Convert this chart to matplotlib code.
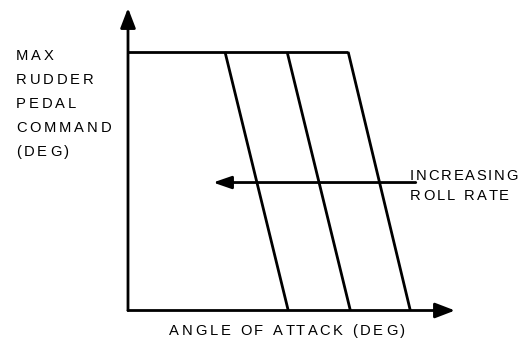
import matplotlib
matplotlib.use("Agg")
import matplotlib.pyplot as plt
from matplotlib.font_manager import FontProperties

# schematic: max rudder pedal command vs angle of attack, one line per roll rate
alpha_top = [8.9, 14.6, 20.2]       # angle where the limit starts to drop
alpha_bottom = [14.7, 20.4, 25.9]   # angle where the limit reaches zero
max_cmd = 1.0
roll_arrow_y = 0.495
roll_arrow_x = [26.4, 7.8]          # from, to (increasing roll rate -> lower alpha)

ylabel_lines = ["MAX", "RUDDER", "PEDAL", "COMMAND", "(DEG)"]
xlabel = "ANGLE OF ATTACK (DEG)"
roll_label = ["INCREASING", "ROLL RATE"]

W, H = 523, 339
FONT = "Liberation Sans"
SIZE = 10.6

fig = plt.figure(figsize=(W / 100, H / 100), dpi=100)
ax = fig.add_axes([128 / W, (H - 310.5) / H, (455 - 128) / W, (310.5 - 8) / H])
ax.set_xlim(0, 30)
ax.set_ylim(0, 1.17)
ax.axis("off")

lw = 2.0
arrow = dict(arrowstyle="-|>,head_length=12,head_width=4.6", mutation_scale=1,
             lw=lw, color="black", shrinkA=0, shrinkB=0)
ax.annotate("", xy=(0, 1.17), xytext=(0, 0), arrowprops=arrow, annotation_clip=False)
ax.annotate("", xy=(30, 0), xytext=(0, 0), arrowprops=arrow, annotation_clip=False)

ax.plot([0, alpha_top[-1]], [max_cmd, max_cmd], color="black", lw=lw, solid_capstyle="butt")
for a0, a1 in zip(alpha_top, alpha_bottom):
    ax.plot([a0, a1], [max_cmd, 0], color="black", lw=lw, solid_capstyle="butt")

ax.annotate("", xy=(roll_arrow_x[1], roll_arrow_y), xytext=(roll_arrow_x[0], roll_arrow_y),
            arrowprops=dict(arrowstyle="-|>,head_length=11,head_width=3.8", mutation_scale=1,
                            lw=lw, color="black", shrinkA=0, shrinkB=0),
            annotation_clip=False)

renderer = fig.canvas.get_renderer()
prop = FontProperties(family=FONT, size=SIZE)


def text_w(s):
    if not s:
        return 0.0
    w, _, _ = renderer.get_text_width_height_descent(s, prop, ismath=False)
    return w


SPACE = text_w("n") * 0.5


def natural_w(s):
    words = s.split(" ")
    return sum(text_w(w) for w in words) + SPACE * (len(words) - 1)


def tracked_text(x, y, s, width=None, track=2.5):
    # x: left edge in px, y: baseline in px from the top; letter-spaced like the original
    if width is not None:
        track = (width - natural_w(s)) / (len(s) - 1)
    cx = x
    for word in s.split(" "):
        for i, ch in enumerate(word):
            px = cx + text_w(word[:i]) + i * track
            fig.text(px / W, 1 - y / H, ch, fontproperties=prop, va="baseline", ha="left")
        cx += text_w(word) + (len(word) - 1) * track + SPACE + 2 * track
    return track


ytrack = (95 - natural_w("COMMAND")) / 6
for i, line in enumerate(ylabel_lines):
    tracked_text(16, 60 + 24 * i, line, track=ytrack)
tracked_text(169, 335, xlabel, width=236)
tracked_text(410, 179.5, roll_label[0], width=108)
tracked_text(410, 199.5, roll_label[1], width=99)

fig.savefig("out.png", dpi=100)
